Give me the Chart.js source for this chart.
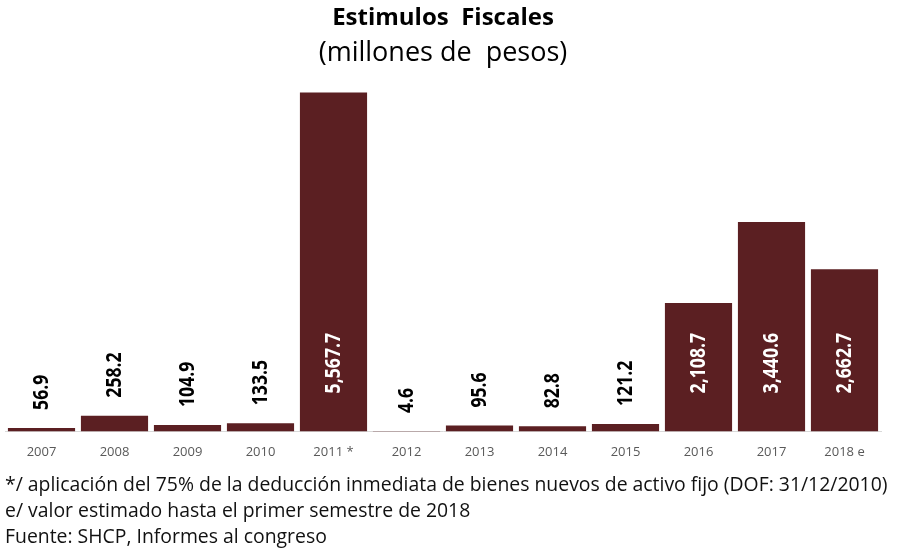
<!DOCTYPE html>
<html lang="es">
<head>
    <meta charset="UTF-8">
    <title>Estimulos Fiscales</title>
    <style>
        html, body { margin: 0; padding: 0; background: #fff; }
        .wrap { position: relative; width: 899px; height: 554px; }
        #chart { position: absolute; left: 0; top: 0; }
        .notas {
            position: absolute; left: 5px; top: 471px;
            font-family: "Open Sans", sans-serif;
            font-size: 19.4px; color: #111; line-height: 26px;
            white-space: nowrap;
        }
        .notas p { margin: 0; }
    </style>
</head>
<body>
    <div class="wrap">
        <canvas id="chart" width="899" height="554"></canvas>
        <div class="notas">
            <p>*/ aplicación del 75% de la deducción inmediata de bienes nuevos de activo fijo (DOF: 31/12/2010)</p>
            <p>e/ valor estimado hasta el primer semestre de 2018</p>
            <p>Fuente: SHCP, Informes al congreso</p>
        </div>
    </div>

    <script src="https://cdn.jsdelivr.net/npm/chart.js"></script>
    <script>
        const years = ['2007', '2008', '2009', '2010', '2011 *', '2012', '2013', '2014', '2015', '2016', '2017', '2018 e'];
        const estimulos = [56.9, 258.2, 104.9, 133.5, 5567.7, 4.6, 95.6, 82.8, 121.2, 2108.7, 3440.6, 2662.7];

        const fontName = '"Open Sans", sans-serif';

        // etiquetas verticales: dentro de la barra si es grande, encima si es chica
        const valueLabels = {
            id: 'valueLabels',
            afterDatasetsDraw(chart) {
                const ctx = chart.ctx;
                const meta = chart.getDatasetMeta(0);
                ctx.save();
                ctx.font = 'bold 21px ' + fontName;
                ctx.textAlign = 'left';
                ctx.textBaseline = 'middle';
                meta.data.forEach((bar, i) => {
                    const v = estimulos[i];
                    const txt = v.toLocaleString('en-US', { minimumFractionDigits: 1, maximumFractionDigits: 1 });
                    let y, color;
                    if (v > 1000) {
                        y = bar.base - 38;
                        color = '#ffffff';
                    } else {
                        y = bar.y - 18;
                        color = '#000000';
                    }
                    ctx.save();
                    ctx.translate(bar.x + 1, y);
                    ctx.rotate(-Math.PI / 2);
                    ctx.scale(0.84, 1);
                    ctx.fillStyle = color;
                    ctx.fillText(txt, 0, 0);
                    ctx.restore();
                });
                ctx.restore();
            }
        };

        new Chart(document.getElementById('chart'), {
            type: 'bar',
            data: {
                labels: years,
                datasets: [{
                    data: estimulos,
                    backgroundColor: '#5b1f22',
                    borderWidth: 0,
                    barPercentage: 0.92,
                    categoryPercentage: 1.0
                }]
            },
            options: {
                responsive: false,
                animation: false,
                layout: { padding: { left: 5, right: 18, bottom: 81 } },
                plugins: {
                    legend: { display: false },
                    tooltip: { enabled: false },
                    title: {
                        display: true,
                        text: 'Estimulos  Fiscales',
                        color: '#000',
                        font: { family: fontName, size: 24, weight: 'bold', lineHeight: 1.2 },
                        padding: { top: 4, bottom: 4 }
                    },
                    subtitle: {
                        display: true,
                        text: '(millones de  pesos)',
                        color: '#000',
                        font: { family: fontName, size: 27, lineHeight: 1.2 },
                        padding: { top: 0, bottom: 0 }
                    }
                },
                scales: {
                    x: {
                        grid: { display: false, drawTicks: false },
                        border: { display: true, color: '#d9d9d9', width: 1 },
                        ticks: {
                            color: '#595959',
                            padding: 13,
                            font: { family: fontName, size: 13 }
                        }
                    },
                    y: {
                        display: false,
                        min: 0,
                        max: 5950
                    }
                }
            },
            plugins: [valueLabels]
        });
    </script>
</body>
</html>
